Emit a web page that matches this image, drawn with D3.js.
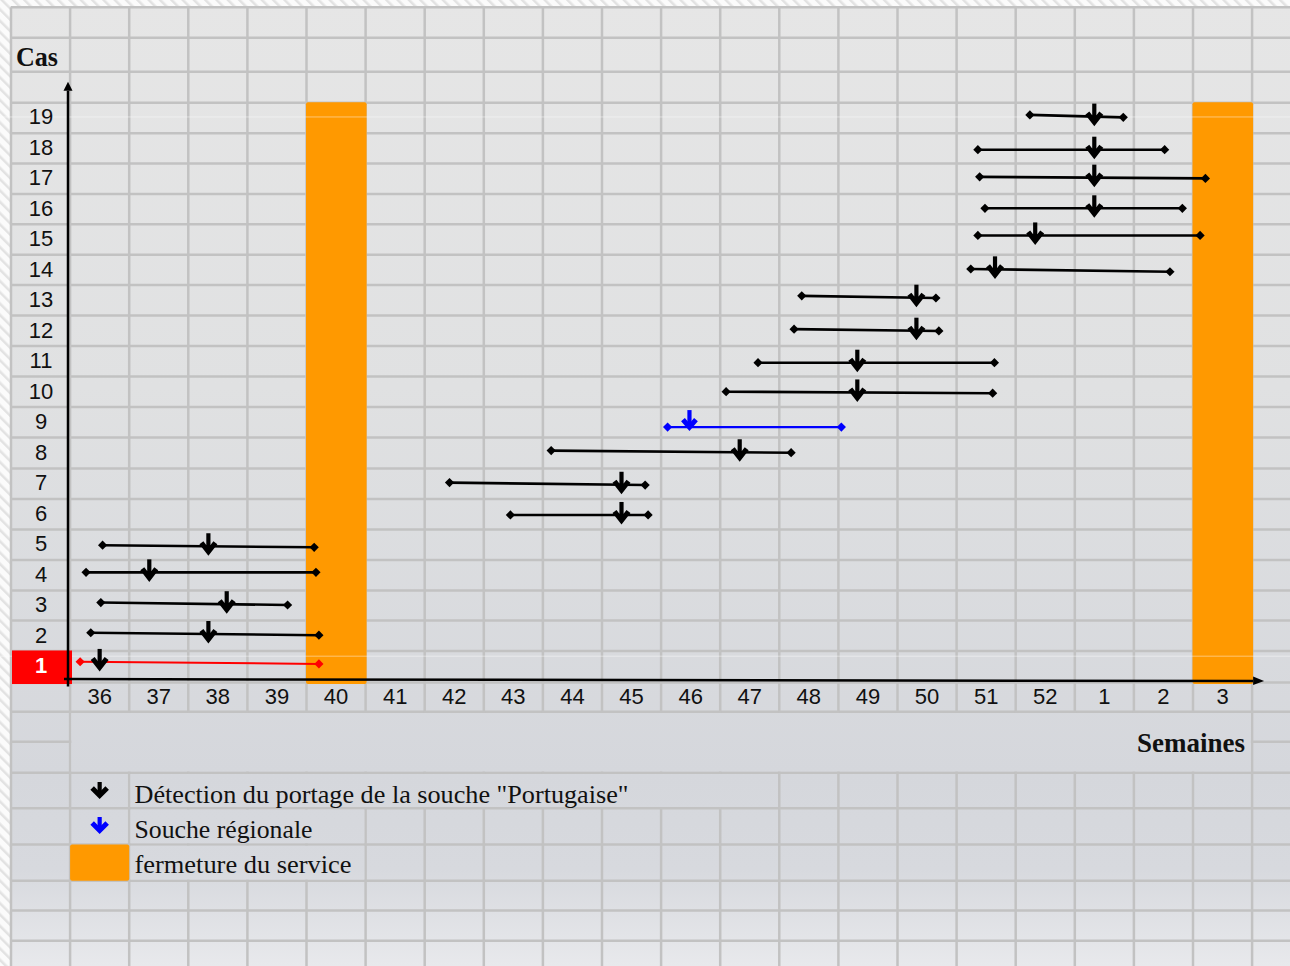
<!DOCTYPE html>
<html>
<head>
<meta charset="utf-8">
<script src="https://cdn.jsdelivr.net/npm/d3@7"></script>
<style>
  html, body { margin: 0; padding: 0; background: #ffffff; }
  svg { display: block; }
</style>
</head>
<body>
<svg id="chart" width="1290" height="966"></svg>
<script>
// ---------------- DATA ----------------
const weeks = ["36","37","38","39","40","41","42","43","44","45","46","47","48","49","50","51","52","1","2","3"];
const caseIds = [1,2,3,4,5,6,7,8,9,10,11,12,13,14,15,16,17,18,19];
// positions in weeks counted from the start of week 36 (0 = start of week 36)
const startPos  = [0.17,0.35,0.52,0.27,0.55,7.45,6.42,8.14,10.11,11.10,11.64,12.25,12.38,15.24,15.36,15.48,15.39,15.36,16.24];
const detectPos = [0.50,2.34,2.65,1.34,2.34,9.33,9.33,11.33,10.48,13.32,13.32,14.32,14.32,15.65,16.33,17.33,17.33,17.33,17.33];
const endPos    = [4.21,4.21,3.68,4.16,4.13,9.78,9.73,12.20,13.05,15.61,15.64,14.70,14.65,18.61,19.12,18.82,19.21,18.52,17.82];
// vertical level of the segment ends, in "case" units
const startLevel = [1.18,2.13,3.12,4.11,5.00,5.99,7.05,8.10,8.87,10.03,10.98,12.08,13.17,14.05,15.15,16.04,17.07,17.96,19.10];
const endLevel   = [1.11,2.05,3.04,4.11,4.93,5.99,6.97,8.03,8.87, 9.98,10.98,12.02,13.10,13.96,15.15,16.04,17.02,17.96,19.02];
const strainType = ["index","portugaise","portugaise","portugaise","portugaise","portugaise","portugaise","portugaise","regionale","portugaise","portugaise","portugaise","portugaise","portugaise","portugaise","portugaise","portugaise","portugaise","portugaise"];
const closureWeeks = ["40","3"];
const yTickValues = [1,2,3,4,5,6,7,8,9,10,11,12,13,14,15,16,17,18,19];
const yTitle = "Cas";
const xTitle = "Semaines";
const legendLabels = ["Détection du portage de la souche \"Portugaise\"", "Souche régionale", "fermeture du service"];

// ---------------- STYLES ----------------
const lineColor   = {index: "#ff0000", portugaise: "#000000", regionale: "#0000ff"};
const arrowColor  = {index: "#000000", portugaise: "#000000", regionale: "#0000ff"};
const lineWidth   = {index: 2, portugaise: 2.6, regionale: 2.2};
const orange = "#ff9900";
const gridColor = "#c2c2c2";

const svg = d3.select("#chart");
const W = 1290, H = 966;

// scales
const x = d3.scaleLinear().domain([0, weeks.length]).range([70.1, 1252.1]);
const xBand = d3.scaleBand().domain(weeks).range([70.1, 1252.1]).padding(0);
const y = d3.scaleLinear().domain([0.5, 19.5]).range([682.5, 102.7]);

// ---------------- defs ----------------
const defs = svg.append("defs");
const hatch = defs.append("pattern").attr("id","hatch").attr("patternUnits","userSpaceOnUse")
  .attr("width",8).attr("height",8).attr("patternTransform","rotate(-45)");
hatch.append("rect").attr("width",8).attr("height",8).attr("fill","#fbfbfb");
hatch.append("rect").attr("x",0).attr("y",0).attr("width",2.5).attr("height",8).attr("fill","#e2e2e2");

const grad = defs.append("linearGradient").attr("id","bg").attr("gradientUnits","userSpaceOnUse")
  .attr("x1",0).attr("y1",0).attr("x2",0).attr("y2",H);
[[0,"#e6e6e6"],[0.4,"#e0e1e2"],[0.8,"#d5d7dc"],[0.9,"#d7d9de"],[1,"#e8e9ec"]].forEach(s =>
  grad.append("stop").attr("offset",s[0]).attr("stop-color",s[1]));

svg.append("rect").attr("width",W).attr("height",H).attr("fill","url(#hatch)");
svg.append("rect").attr("x",10).attr("y",6).attr("width",W-10).attr("height",H-6).attr("fill","url(#bg)");

// ---------------- spreadsheet grid (layout) ----------------
const colX = d3.range(0, 22).map(k => 11 + 59.1 * k);
const rowY = [7.3,37.7,71.7,102.7,133.3,163.5,194,224.3,254.7,285,315.5,346,376.5,407,437.5,468.5,499,529.5,560,590.5,620.5,651,682.5,711.7,741.7,772.7,808.3,844.5,880.8,910.5,940.7];
const grid = svg.append("g");
grid.selectAll("line.h").data(rowY).join("line").attr("class","h")
  .attr("x1",11).attr("x2",W).attr("y1",d=>d).attr("y2",d=>d)
  .attr("stroke",gridColor).attr("stroke-width",2.5);
grid.selectAll("line.v").data(colX).join("line").attr("class","v")
  .attr("x1",d=>d).attr("x2",d=>d).attr("y1",7.3).attr("y2",H)
  .attr("stroke",gridColor).attr("stroke-width",2.5);
// merged cells
const merged = [[colX[1], colX[21], rowY[23], rowY[25]],
                [colX[2], colX[13], rowY[25], rowY[26]],
                [colX[2], colX[6],  rowY[26], rowY[27]],
                [colX[2], colX[6],  rowY[27], rowY[28]]];
grid.selectAll("rect.m").data(merged).join("rect").attr("class","m")
  .attr("x",d=>d[0]+1.3).attr("y",d=>d[2]+1.3)
  .attr("width",d=>d[1]-d[0]-2.6).attr("height",d=>d[3]-d[2]-2.6)
  .attr("fill","url(#bg)");

// ---------------- closure bars ----------------
svg.append("g").selectAll("rect").data(closureWeeks).join("rect")
  .attr("x", d => xBand(d) - 0.5)
  .attr("y", y(19.5) - 0.5)
  .attr("width", xBand.bandwidth() + 1.5)
  .attr("height", y(0.45) - y(19.5) + 0.5)
  .attr("rx", 2)
  .attr("fill", orange);

// faint white lines
svg.append("g").selectAll("line").data([19, 1.33]).join("line")
  .attr("x1",0).attr("x2",W).attr("y1",d=>y(d)-1).attr("y2",d=>y(d)-1)
  .attr("stroke","#ffffff").attr("stroke-opacity",0.45).attr("stroke-width",1);

// red highlight of case 1 label
svg.append("rect").attr("x",12).attr("y",y(1.5)-1.5).attr("width",60).attr("height",y(0.45)-y(1.5)+1.5)
  .attr("fill","#ff0000");

// ---------------- axes lines ----------------
const axisG = svg.append("g");
const yAxisX = 68;
axisG.append("line").attr("x1",yAxisX).attr("x2",yAxisX).attr("y1",y(0.37)).attr("y2",y(19.5)-12)
  .attr("stroke","#000").attr("stroke-width",2.5);
axisG.append("path").attr("d",`M${yAxisX-4.5},${y(19.5)-12} L${yAxisX},${y(19.5)-21} L${yAxisX+4.5},${y(19.5)-12} Z`).attr("fill","#000");
const xAxisY = y(0.58);
axisG.append("line").attr("x1",64).attr("x2",x(20)+1).attr("y1",xAxisY-1).attr("y2",xAxisY+1)
  .attr("stroke","#000").attr("stroke-width",2.5);
axisG.append("path").attr("d",`M${x(20)+1},${xAxisY-3.5} L${x(20)+12},${xAxisY+1} L${x(20)+1},${xAxisY+5} Z`).attr("fill","#000");

// tick labels via d3 axes
const xAxis = svg.append("g").attr("transform",`translate(0,${y(0.5)+14})`)
  .call(d3.axisBottom(xBand).tickSize(0).tickPadding(0));
xAxis.select(".domain").remove();
xAxis.selectAll("text").attr("font-family","'Liberation Sans', Arial, sans-serif").attr("font-size",22)
  .attr("fill","#111").attr("dy","0.35em").attr("y",0);

const yAxis = svg.append("g").attr("transform","translate(41,0)")
  .call(d3.axisLeft(y).tickValues(yTickValues).tickSize(0).tickFormat(d3.format("d")));
yAxis.select(".domain").remove();
yAxis.selectAll("text").attr("font-family","'Liberation Sans', Arial, sans-serif").attr("font-size",22)
  .attr("text-anchor","middle").attr("x",0).attr("dy","0.35em")
  .attr("fill", d => d === 1 ? "#ffffff" : "#111")
  .attr("font-weight", d => d === 1 ? "bold" : "normal");
yAxis.selectAll(".tick").attr("transform", d => `translate(0,${y(d)-1.5})`);

// ---------------- case segments ----------------
const cases = caseIds.map((c,i) => ({
  id: c, s: startPos[i], d: detectPos[i], e: endPos[i],
  ls: startLevel[i], le: endLevel[i], type: strainType[i]
}));

const segG = svg.append("g");
segG.selectAll("line").data(cases).join("line")
  .attr("x1", d => x(d.s)).attr("y1", d => y(d.ls))
  .attr("x2", d => x(d.e)).attr("y2", d => y(d.le))
  .attr("stroke", d => lineColor[d.type])
  .attr("stroke-width", d => lineWidth[d.type]);

const diamond = (cx, cy, r) => `M${cx-r},${cy} L${cx},${cy-r} L${cx+r},${cy} L${cx},${cy+r} Z`;
segG.selectAll("path.ds").data(cases).join("path").attr("class","ds")
  .attr("d", d => diamond(x(d.s), y(d.ls), 4.6)).attr("fill", d => lineColor[d.type]);
segG.selectAll("path.de").data(cases).join("path").attr("class","de")
  .attr("d", d => diamond(x(d.e), y(d.le), 4.6)).attr("fill", d => lineColor[d.type]);

// arrows
function arrowPaths(g, cx, tip, top, halfW, headH, color, sw) {
  const J = tip - 4;
  g.append("line").attr("x1",cx).attr("x2",cx).attr("y1",top).attr("y2",J)
    .attr("stroke",color).attr("stroke-width",4.2);
  g.append("path").attr("d",`M${cx-halfW},${J-headH} L${cx},${J} L${cx+halfW},${J-headH}`)
    .attr("fill","none").attr("stroke",color).attr("stroke-width",sw)
    .attr("stroke-linejoin","miter").attr("stroke-miterlimit",10);
}
const arrG = svg.append("g");
cases.forEach(d => {
  const lvl = d.ls + (d.le - d.ls) * (d.d - d.s) / (d.e - d.s);
  const ly = y(lvl);
  const col = arrowColor[d.type];
  if (d.type === "regionale") {
    arrowPaths(arrG, x(d.d), ly + 4, ly - 17, 6.5, 7.5, col, 5);
  } else {
    arrowPaths(arrG, x(d.d), ly + 9.5, ly - 13, 7, 9, col, 5);
  }
});

// ---------------- titles ----------------
svg.append("text").attr("x",16).attr("y",66).text(yTitle)
  .attr("font-family","'Liberation Serif', 'Times New Roman', serif").attr("font-weight","bold")
  .attr("font-size",27).attr("textLength",42).attr("lengthAdjust","spacingAndGlyphs").attr("fill","#111");
svg.append("text").attr("x",1137).attr("y",752).text(xTitle)
  .attr("font-family","'Liberation Serif', 'Times New Roman', serif").attr("font-weight","bold")
  .attr("font-size",27).attr("textLength",108).attr("lengthAdjust","spacingAndGlyphs").attr("fill","#111");

// ---------------- legend ----------------
const legG = svg.append("g");
const legX = x(0.5);
arrowPaths(legG, legX, 799.5, 782, 7.5, 7.5, "#000000", 5);
arrowPaths(legG, legX, 834.5, 817, 7.5, 7.5, "#0000ff", 5);
legG.append("rect").attr("x",colX[1]).attr("y",rowY[27]).attr("width",colX[2]-colX[1]).attr("height",rowY[28]-rowY[27])
  .attr("rx",2).attr("fill",orange);
const legText = [{t: legendLabels[0], y: 802.5, w: 494},
                 {t: legendLabels[1], y: 837.5, w: 178},
                 {t: legendLabels[2], y: 872.5, w: 217}];
legG.selectAll("text").data(legText).join("text")
  .attr("x",134.5).attr("y",d=>d.y).text(d=>d.t)
  .attr("font-family","'Liberation Serif', 'Times New Roman', serif").attr("font-size",25)
  .attr("textLength",d=>d.w).attr("lengthAdjust","spacingAndGlyphs").attr("fill","#111");
</script>
</body>
</html>
